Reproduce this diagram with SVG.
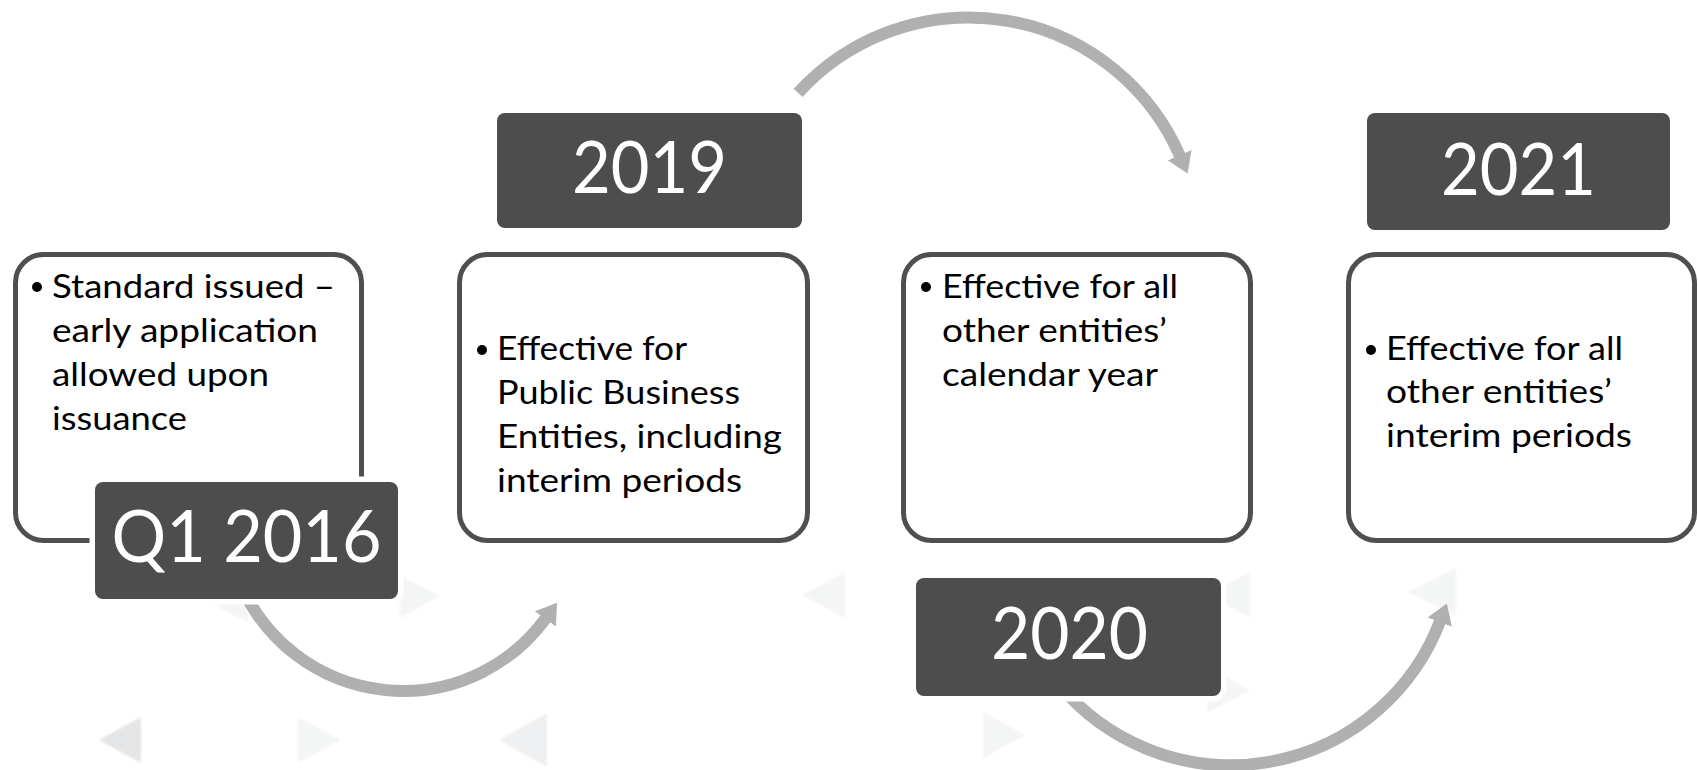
<svg xmlns="http://www.w3.org/2000/svg" width="1698" height="770" viewBox="0 0 1698 770">
  <style>
    .card { fill: #ffffff; stroke: #4f4f4f; stroke-width: 5; }
    .badge { fill: #4d4d4d; stroke: #ffffff; stroke-width: 11; paint-order: stroke; }
    .year { font-family: Lato, "Open Sans", sans-serif; font-size: 72px; fill: #ffffff; text-anchor: middle; }
    .body { font-family: Lato, "Open Sans", sans-serif; font-size: 32px; fill: #000000; }
    .dot { fill: #000000; }
    .flow { fill: none; stroke: #b0b0b0; stroke-width: 12; marker-end: url(#head); }
    .tri-a { fill: #e3e5e7; }
    .tri-b { fill: #eff0f1; }
    .tri-c { fill: #f4f5f5; }
  </style>
  <defs>
    <marker id="head" markerUnits="userSpaceOnUse" markerWidth="20" markerHeight="26" viewBox="0 0 20 26" refX="1" refY="13" orient="auto">
      <path d="M0,0 L20,13 L0,26 Z" fill="#b0b0b0"/>
    </marker>
    <filter id="soft" x="-20%" y="-20%" width="140%" height="140%">
      <feGaussianBlur stdDeviation="1"/>
    </filter>
  </defs>

  <rect width="1698" height="770" fill="#ffffff"/>

  <!-- faint background chevrons -->
  <g id="backdrop" filter="url(#soft)">
    <polygon class="tri-a" points="99,740 141,717 141,763"/>
    <polygon class="tri-c" points="298,717 298,763 341,740"/>
    <polygon class="tri-b" points="499,740 547,713 547,767"/>
    <polygon class="tri-c" points="400,575 400,618 440,596"/>
    <polygon class="tri-c" points="205,600 248,577 248,623"/>
    <polygon class="tri-c" points="802,595 845,572 845,618"/>
    <polygon class="tri-c" points="1207,595 1250,572 1250,618"/>
    <polygon class="tri-c" points="1207,667 1207,713 1250,690"/>
    <polygon class="tri-c" points="983,712 983,758 1025,735"/>
    <polygon class="tri-c" points="1408,592 1456,568 1456,616"/>
  </g>

  <!-- curved arrows between milestones -->
  <g id="connectors">
    <path class="flow" d="M 798.1 92.9 A 230.5 230.5 0 0 1 1180 156.1"/>
    <path class="flow" d="M 242.7 588.9 A 176.8 176.8 0 0 0 545.9 618.1"/>
    <path class="flow" d="M 1059.4 685.2 A 223.9 223.9 0 0 0 1440.1 621.2"/>
  </g>

  <!-- description cards -->
  <g id="card-q1-2016">
    <rect class="card" x="15.5" y="254.5" width="346" height="286" rx="28"/>
    <circle class="dot" cx="37" cy="287" r="5"/>
    <text class="body" x="52" y="298" textLength="283" lengthAdjust="spacingAndGlyphs">Standard issued –</text>
    <text class="body" x="52" y="342" textLength="266" lengthAdjust="spacingAndGlyphs">early application</text>
    <text class="body" x="52" y="386" textLength="217" lengthAdjust="spacingAndGlyphs">allowed upon</text>
    <text class="body" x="52" y="430" textLength="135" lengthAdjust="spacingAndGlyphs">issuance</text>
  </g>
  <g id="card-2019">
    <rect class="card" x="459.5" y="254.5" width="348" height="286" rx="28"/>
    <circle class="dot" cx="482" cy="350" r="5"/>
    <text class="body" x="497" y="360" textLength="190" lengthAdjust="spacingAndGlyphs">Effective for</text>
    <text class="body" x="497" y="404" textLength="243" lengthAdjust="spacingAndGlyphs">Public Business</text>
    <text class="body" x="497" y="448" textLength="285" lengthAdjust="spacingAndGlyphs">Entities, including</text>
    <text class="body" x="497" y="492" textLength="245" lengthAdjust="spacingAndGlyphs">interim periods</text>
  </g>
  <g id="card-2020">
    <rect class="card" x="903.5" y="254.5" width="347" height="286" rx="28"/>
    <circle class="dot" cx="926" cy="287" r="5"/>
    <text class="body" x="942" y="298" textLength="236" lengthAdjust="spacingAndGlyphs">Effective for all</text>
    <text class="body" x="942" y="342" textLength="225" lengthAdjust="spacingAndGlyphs">other entities’</text>
    <text class="body" x="942" y="386" textLength="216" lengthAdjust="spacingAndGlyphs">calendar year</text>
  </g>
  <g id="card-2021">
    <rect class="card" x="1348.5" y="254.5" width="346" height="286" rx="28"/>
    <circle class="dot" cx="1371" cy="350" r="5"/>
    <text class="body" x="1386" y="360" textLength="237" lengthAdjust="spacingAndGlyphs">Effective for all</text>
    <text class="body" x="1386" y="403" textLength="226" lengthAdjust="spacingAndGlyphs">other entities’</text>
    <text class="body" x="1386" y="447" textLength="246" lengthAdjust="spacingAndGlyphs">interim periods</text>
  </g>

  <!-- date badges -->
  <g id="badge-q1-2016">
    <rect class="badge" x="95" y="482" width="303" height="117" rx="8"/>
    <text class="year" x="246.5" y="562" textLength="270" lengthAdjust="spacingAndGlyphs">Q1 2016</text>
  </g>
  <g id="badge-2019">
    <rect class="badge" x="497" y="113" width="305" height="115" rx="8"/>
    <text class="year" x="649.5" y="193" textLength="155" lengthAdjust="spacingAndGlyphs">2019</text>
  </g>
  <g id="badge-2020">
    <rect class="badge" x="916" y="578" width="305" height="118" rx="8"/>
    <text class="year" x="1069.5" y="659" textLength="157" lengthAdjust="spacingAndGlyphs">2020</text>
  </g>
  <g id="badge-2021">
    <rect class="badge" x="1367" y="113" width="303" height="117" rx="8"/>
    <text class="year" x="1518.5" y="195" textLength="155" lengthAdjust="spacingAndGlyphs">2021</text>
  </g>
</svg>
